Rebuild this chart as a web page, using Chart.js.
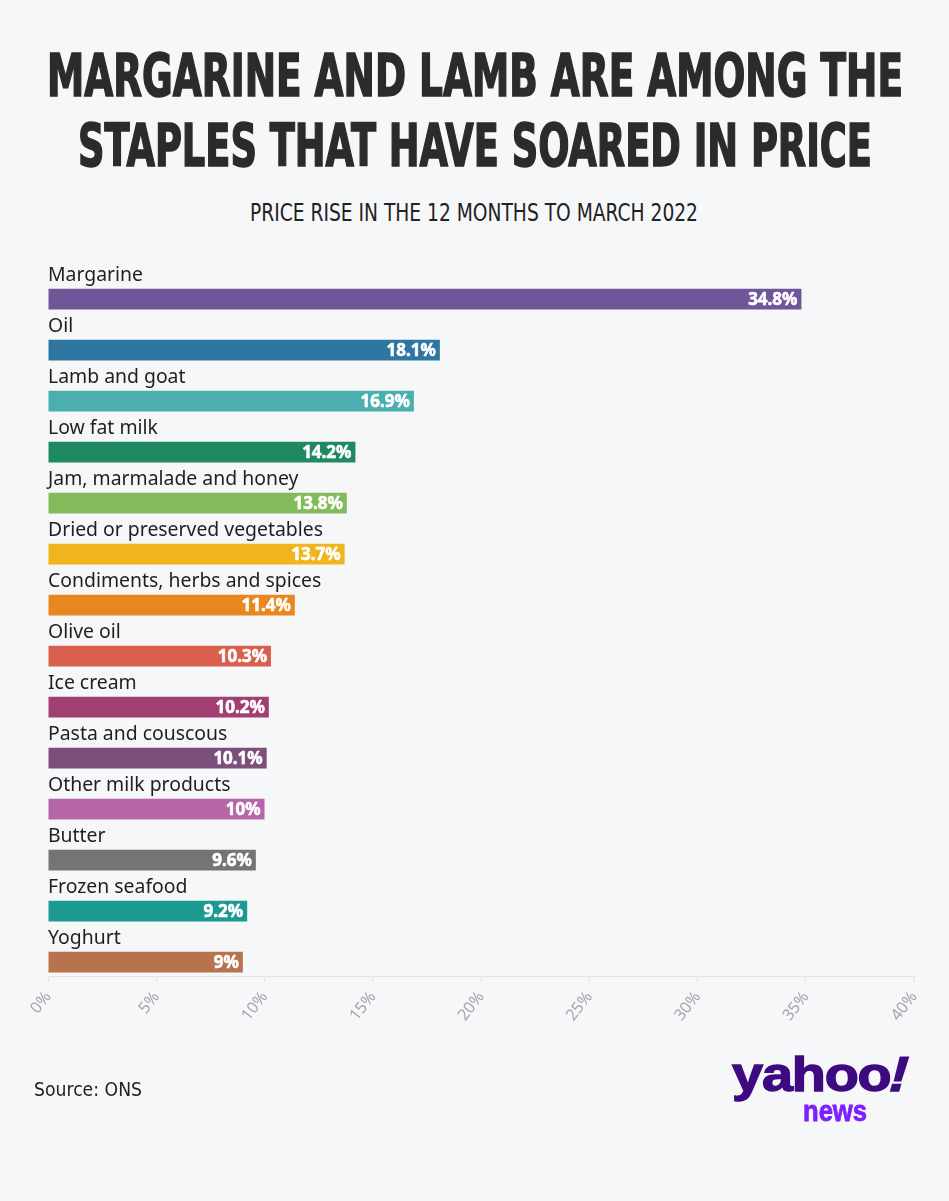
<!DOCTYPE html>
<html><head><meta charset="utf-8">
<script src="https://cdn.jsdelivr.net/npm/chart.js@4"></script>
<style>
html,body{margin:0;padding:0;background:#f6f7f9;}
body{width:949px;height:1201px;position:relative;overflow:hidden;}
.t{position:absolute;white-space:nowrap;transform-origin:left top;}
#wrap{position:absolute;left:0;top:240px;width:949px;height:840px;}
</style></head><body>
<div class="t fit" data-x="47" data-w="856" style="top:47px;font:bold 58px/58px 'Liberation Sans Narrow','DejaVu Sans Condensed',sans-serif;color:#2b2b2b;-webkit-text-stroke:1.6px #2b2b2b">MARGARINE AND LAMB ARE AMONG THE</div>
<div class="t fit" data-x="78" data-w="794" style="top:117px;font:bold 58px/58px 'Liberation Sans Narrow','DejaVu Sans Condensed',sans-serif;color:#2b2b2b;-webkit-text-stroke:1.6px #2b2b2b">STAPLES THAT HAVE SOARED IN PRICE</div>
<div class="t fit" data-x="250" data-w="448" style="top:200px;font:25px/25px 'Liberation Sans Narrow','DejaVu Sans Condensed',sans-serif;color:#222">PRICE RISE IN THE 12 MONTHS TO MARCH 2022</div>
<div id="wrap"><canvas id="c" width="949" height="840"></canvas></div>
<div class="t fit" data-x="34" data-w="108" style="top:1080px;font:19px/19px 'Liberation Sans Narrow','DejaVu Sans Condensed',sans-serif;color:#222">Source: ONS</div>
<div class="t fit" data-x="732" data-w="176" style="top:1050px;font:bold 49px/49px 'Liberation Sans','DejaVu Sans',sans-serif;color:#3d0a80;letter-spacing:-1px;-webkit-text-stroke:1.4px #3d0a80">yahoo<span style="display:inline-block;transform:skewX(-14deg)">!</span></div>
<div class="t fit" data-x="803" data-w="64" style="top:1097px;font:bold 29px/29px 'Liberation Sans','DejaVu Sans',sans-serif;color:#7e1fff;-webkit-text-stroke:0.8px #7e1fff">news</div>
<script>
const categories = ["Margarine","Oil","Lamb and goat","Low fat milk","Jam, marmalade and honey","Dried or preserved vegetables","Condiments, herbs and spices","Olive oil","Ice cream","Pasta and couscous","Other milk products","Butter","Frozen seafood","Yoghurt"];
const values = [34.8,18.1,16.9,14.2,13.8,13.7,11.4,10.3,10.2,10.1,10,9.6,9.2,9];
const barColors = ["#6e5698","#2f77a0","#4aafae","#1f8a61","#84bb5a","#f0b51d","#e8871e","#d9604e","#a23f72","#7b4f7a","#b565a8","#747474","#1c9991","#b6734d"];
const spacer = [null,null,null,null,null,null,null,null,null,null,null,null,null,null];
const xTickValues = [0,5,10,15,20,25,30,35,40];

document.querySelectorAll('.fit').forEach(el=>{
  el.style.left = el.dataset.x + 'px';
  const w = el.getBoundingClientRect().width;
  el.style.transform = 'scaleX(' + (parseFloat(el.dataset.w)/w) + ')';
});

const valueLabels = {
  id:'valueLabels',
  afterDatasetsDraw(chart){
    const meta = chart.getDatasetMeta(1);
    const ctx = chart.ctx;
    ctx.save();
    ctx.font = 'bold 17px "Noto Sans"';
    ctx.fillStyle = '#ffffff';
    ctx.strokeStyle = '#ffffff';
    ctx.lineWidth = 0.6;
    ctx.textAlign = 'right';
    ctx.textBaseline = 'middle';
    meta.data.forEach((bar,i)=>{
      ctx.fillText(values[i] + '%', bar.x - 4, bar.y + 1);
      ctx.strokeText(values[i] + '%', bar.x - 4, bar.y + 1);
    });
    ctx.restore();
  }
};

new Chart(document.getElementById('c'), {
  type:'bar',
  data:{
    labels: categories,
    datasets:[
      {data: spacer, backgroundColor:'rgba(0,0,0,0)'},
      {data: values, backgroundColor: barColors, borderWidth:0}
    ]
  },
  options:{
    indexAxis:'y',
    responsive:false,
    animation:false,
    devicePixelRatio:1,
    categoryPercentage:0.91,
    barPercentage:0.9,
    layout:{padding:{left:48,right:35,top:22,bottom:44}},
    plugins:{legend:{display:false},tooltip:{enabled:false}},
    scales:{
      x:{
        type:'linear', min:0, max:40,
        afterFit(s){ s.height = 60; },
        afterBuildTicks(s){ s.ticks = xTickValues.map(v=>({value:v})); },
        grid:{drawOnChartArea:false, drawTicks:true, tickLength:6, color:'#e2e3e5'},
        border:{display:true, color:'#e2e3e5', width:1},
        ticks:{minRotation:52, maxRotation:52, padding:6, color:'#a3a6aa', font:{family:'"Noto Sans"', size:16}, callback:v=>v+'%'}
      },
      y:{
        afterFit(s){ s.width = 0; },
        grid:{display:false},
        border:{display:false},
        ticks:{mirror:true, padding:0, labelOffset:-12, autoSkip:false, color:'#1f1f1f', font:{family:'"Noto Sans"', size:19.4}}
      }
    }
  },
  plugins:[valueLabels]
});
</script>
</body></html>
